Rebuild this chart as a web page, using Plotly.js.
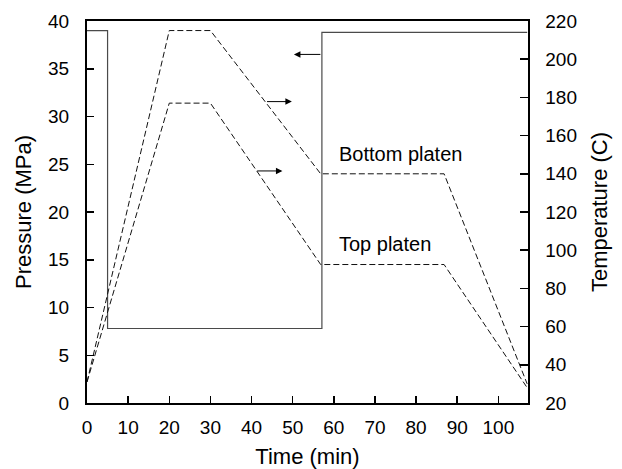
<!DOCTYPE html>
<html>
<head>
<meta charset="utf-8">
<script src="https://cdn.plot.ly/plotly-3.0.1.min.js"></script>
<style>html,body{margin:0;padding:0;background:#fff;}#chart{width:622px;height:469px;}</style>
</head>
<body>
<div id="chart"></div>
<script>
// Pressure (MPa) profile
const pressureTime = [0, 5, 5, 57.1, 57.1, 107];
const pressureValues = [39, 39, 7.8, 7.8, 38.8, 38.8];
// Platen temperatures (C)
const tempTime = [0, 20, 30, 56.8, 86.8, 107];
const bottomPlaten = [31, 215, 215, 140, 140, 30];
const topPlaten = [31, 177, 177, 92.5, 92.5, 28];
const xTicks = [0, 10, 20, 30, 40, 50, 60, 70, 80, 90, 100];
const leftTicks = [0, 5, 10, 15, 20, 25, 30, 35, 40];
const rightTicks = [20, 40, 60, 80, 100, 120, 140, 160, 180, 200, 220];

const FONT = 'Liberation Sans, Arial, Helvetica, sans-serif';

const traces = [
  {x: pressureTime, y: pressureValues, type: 'scatter', mode: 'lines', yaxis: 'y',
   line: {color: '#4a4a4a', width: 1.2}, hoverinfo: 'skip'},
  {x: tempTime, y: bottomPlaten, type: 'scatter', mode: 'lines', yaxis: 'y2',
   line: {color: '#111', width: 1, dash: '6px,3px'}, hoverinfo: 'skip'},
  {x: tempTime, y: topPlaten, type: 'scatter', mode: 'lines', yaxis: 'y2',
   line: {color: '#111', width: 1, dash: '6px,3px'}, hoverinfo: 'skip'}
];

const layout = {
  width: 622, height: 469,
  margin: {l: 87, r: 94, t: 21, b: 66},
  paper_bgcolor: '#fff', plot_bgcolor: '#fff',
  showlegend: false,
  font: {family: FONT, size: 19, color: '#000'},
  xaxis: {
    range: [0, 107.2], tickvals: xTicks, ticktext: xTicks.map(String),
    ticks: 'inside', ticklen: 7, tickwidth: 1.5, tickcolor: '#000',
    showline: true, linewidth: 2, linecolor: '#000', mirror: true,
    showgrid: false, zeroline: false, ticklabelstandoff: 6,
    title: {text: 'Time (min)', font: {size: 22}, standoff: 12}
  },
  yaxis: {
    range: [0, 40], tickvals: leftTicks, ticktext: leftTicks.map(String),
    ticks: 'inside', ticklen: 7, tickwidth: 1.5, tickcolor: '#000',
    showline: true, linewidth: 2, linecolor: '#000',
    showgrid: false, zeroline: false, ticklabelstandoff: 12,
    title: {text: 'Pressure (MPa)', font: {size: 22}, standoff: 10}
  },
  yaxis2: {
    range: [20, 220], overlaying: 'y', side: 'right',
    tickvals: rightTicks, ticktext: rightTicks.map(String),
    ticks: 'inside', ticklen: 8, tickwidth: 1.5, tickcolor: '#000',
    showline: true, linewidth: 1.5, linecolor: '#000',
    showgrid: false, zeroline: false, ticklabelstandoff: 12,
    title: {text: 'Temperature (C)', font: {size: 22}, standoff: 15}
  },
  annotations: [
    {x: 50.3, y: 36.5, ax: 57.1, ay: 36.5, xref: 'x', yref: 'y', axref: 'x', ayref: 'y',
     showarrow: true, arrowhead: 2, arrowsize: 1.3, arrowwidth: 1, arrowcolor: '#000', text: ''},
    {x: 49.8, y: 177.8, ax: 43.4, ay: 177.8, xref: 'x', yref: 'y2', axref: 'x', ayref: 'y2',
     showarrow: true, arrowhead: 2, arrowsize: 1.3, arrowwidth: 1, arrowcolor: '#000', text: ''},
    {x: 47.5, y: 141.5, ax: 41.0, ay: 141.5, xref: 'x', yref: 'y2', axref: 'x', ayref: 'y2',
     showarrow: true, arrowhead: 2, arrowsize: 1.3, arrowwidth: 1, arrowcolor: '#000', text: ''},
    {x: 60.8, y: 150.5, xref: 'x', yref: 'y2', text: 'Bottom platen', showarrow: false,
     xanchor: 'left', yanchor: 'middle', font: {size: 20}},
    {x: 60.8, y: 103, xref: 'x', yref: 'y2', text: 'Top platen', showarrow: false,
     xanchor: 'left', yanchor: 'middle', font: {size: 20}}
  ]
};

Plotly.newPlot('chart', traces, layout, {staticPlot: true, displayModeBar: false});
</script>
</body>
</html>
